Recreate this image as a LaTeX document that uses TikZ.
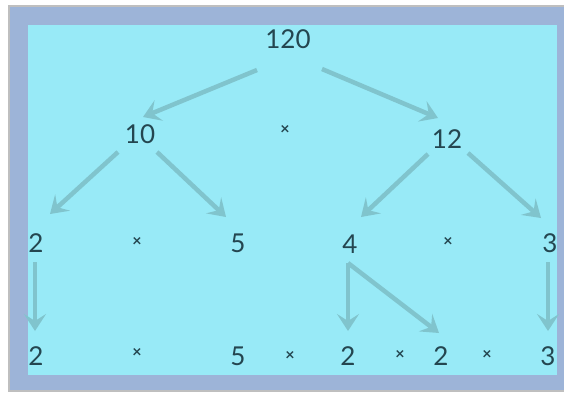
\documentclass[tikz,border=0pt]{standalone}
\usepackage{fontspec}
\setmainfont{Lato}
\usetikzlibrary{arrows.meta}
\definecolor{framecol}{HTML}{9DB4D8}
\definecolor{panelcol}{HTML}{98EAF7}
\definecolor{arrowcol}{HTML}{80C4CD}
\definecolor{numcol}{HTML}{244650}
\tikzset{
  num/.style={text=numcol, font=\fontsize{26}{28}\selectfont, inner sep=1pt},
  times/.style={text=numcol, font=\fontsize{16}{18}\selectfont\bfseries, inner sep=1pt},
  arr/.style={draw=arrowcol, line width=4.5pt, -{Stealth[length=17pt,width=22pt,inset=7pt]}},
}
\begin{document}
\begin{tikzpicture}[x=1pt,y=-1pt]
\useasboundingbox (0,0) rectangle (564,392);
\fill[white] (0,0) rectangle (564,392);
\fill[black!25] (8,5) rectangle (564,392);
\fill[framecol] (10,7) rectangle (564,390);
\fill[panelcol] (28,25) rectangle (557,375);
% nodes
\node[num] (n120) at (288,39) {120};
\node[num] (n10) at (140,134) {10};
\node[times] (x1) at (285,130) {×};
\node[num] (n12) at (447,139) {12};
\node[num] (a2) at (36,243) {2};
\node[times] (x2) at (137,242) {×};
\node[num] (a5) at (238,243) {5};
\node[num] (a4) at (350,244) {4};
\node[times] (x3) at (448,242) {×};
\node[num] (a3) at (550,243) {3};
\node[num] (b2) at (36,356) {2};
\node[times] (x4) at (137,353) {×};
\node[num] (b5) at (238,356) {5};
\node[times] (x5) at (290,356) {×};
\node[num] (b2b) at (348,356) {2};
\node[times] (x6) at (400,355) {×};
\node[num] (b2c) at (441,356) {2};
\node[times] (x7) at (487,355) {×};
\node[num] (b3) at (548,356) {3};
% connector endpoints
\coordinate (s120l) at (257,70);
\coordinate (s120r) at (322,69);
\coordinate (e10) at (143,117);
\coordinate (e12) at (438,118);
\coordinate (s10l) at (118,152);
\coordinate (s10r) at (157,152);
\coordinate (e2) at (50,214);
\coordinate (e5) at (226,217);
\coordinate (s12l) at (428,154);
\coordinate (s12r) at (468,153);
\coordinate (e4) at (361,217);
\coordinate (e3) at (541,218);
\coordinate (s2) at (35,262);
\coordinate (t2) at (35,331);
\coordinate (s4) at (348,263);
\coordinate (t4) at (348,331);
\coordinate (t4b) at (439,333);
\coordinate (s3) at (548,262);
\coordinate (t3) at (548,331);
\draw[arr] (s120l) -- (e10);
\draw[arr] (s120r) -- (e12);
\draw[arr] (s10l) -- (e2);
\draw[arr] (s10r) -- (e5);
\draw[arr] (s12l) -- (e4);
\draw[arr] (s12r) -- (e3);
\draw[arr] (s2) -- (t2);
\draw[arr] (s4) -- (t4);
\draw[arr] (s4) -- (t4b);
\draw[arr] (s3) -- (t3);
\end{tikzpicture}
\end{document}
